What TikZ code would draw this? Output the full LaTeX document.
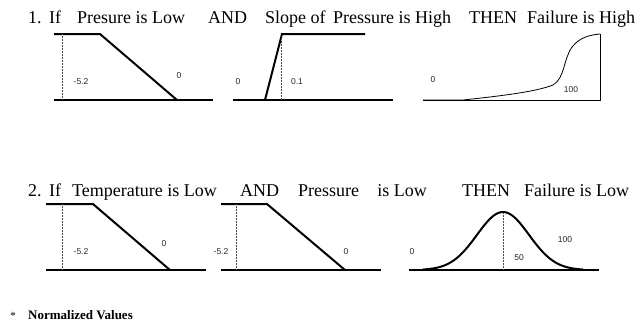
\documentclass[tikz,border=0pt]{standalone}
\usepackage{fontspec}
\setmainfont{Liberation Serif}
\newfontfamily\valfont{Liberation Sans}
\usetikzlibrary{positioning}

\begin{document}
\begin{tikzpicture}[
    x=1pt, y=-1pt,
    head/.style={anchor=base west, inner sep=0pt, font=\fontsize{18}{20}\selectfont},
    note/.style={anchor=base west, inner sep=0pt, font=\bfseries\fontsize{13}{15}\selectfont},
    val/.style={inner sep=0pt, font=\valfont\fontsize{8.5}{9}\selectfont, text=black!85},
    mf/.style={line width=2pt},
    thinmf/.style={line width=0.8pt},
    guide/.style={densely dotted, line width=0.5pt, draw=black!70}
]
    \useasboundingbox (0,0) rectangle (642,330);

    % Rule 1 text
    \node[head] (r1num) at (28,23) {1.};
    \node[head] (r1if) at (49,23) {If};
    \node[head] (r1a) at (77,23) {Presure is Low};
    \node[head] (r1and) at (208,23) {AND};
    \node[head] (r1b) at (265,23) {Slope of};
    \node[head] (r1c) at (333,23) {Pressure is High};
    \node[head] (r1then) at (469,23) {THEN};
    \node[head] (r1d) at (527,23) {Failure is High};

    % Rule 1: pressure low
    \draw[mf] (54,34) -- (100,34) -- (177,100);
    \draw[mf] (54,100) -- (213,100);
    \draw[guide] (62,34) -- (62,100);
    \node[val] (p1lo) at (81,82) {-5.2};
    \node[val] (p1hi) at (179,76) {0};

    % Rule 1: slope high
    \draw[mf] (233,100) -- (393,100);
    \draw[mf] (265,100) -- (282,34) -- (365,34);
    \draw[guide] (281,36) -- (281,100);
    \node[val] (s1lo) at (238,82) {0};
    \node[val] (s1hi) at (297,82) {0.1};

    % Rule 1: failure high
    \draw[thinmf] (423,100) -- (600,100) -- (600,34);
    \draw[thinmf] (423,100) -- (463,100)
        .. controls (500,96) and (535,92) .. (553,85)
        .. controls (565,78) and (563,60) .. (572,47)
        .. controls (580,37) and (590,35) .. (600,34);
    \node[val] (f1lo) at (433,80) {0};
    \node[val] (f1hi) at (571,90) {100};

    % Rule 2 text
    \node[head] (r2num) at (28,196) {2.};
    \node[head] (r2if) at (49,196) {If};
    \node[head] (r2a) at (72,196) {Temperature is Low};
    \node[head] (r2and) at (240,196) {AND};
    \node[head] (r2b) at (298,196) {Pressure};
    \node[head, anchor=base east] (r2c) at (427,196) {is Low};
    \node[head] (r2then) at (462,196) {THEN};
    \node[head] (r2d) at (524,196) {Failure is Low};

    % Rule 2: temperature low
    \draw[mf] (46,204) -- (93,204) -- (170,270);
    \draw[mf] (46,270) -- (206,270);
    \draw[guide] (62,204) -- (62,270);
    \node[val] (t2lo) at (81,252) {-5.2};
    \node[val] (t2hi) at (164,244) {0};

    % Rule 2: pressure low
    \draw[mf] (221,204) -- (267,204) -- (345,270);
    \draw[mf] (221,270) -- (381,270);
    \draw[guide] (236,204) -- (236,270);
    \node[val] (p2lo) at (221,252) {-5.2};
    \node[val] (p2hi) at (346,252) {0};

    % Rule 2: failure low
    \draw[line width=1.2pt] (409,270) -- (599,270);
    \draw[mf] plot[domain=-80:80, samples=80, smooth] ({503+\x}, {270-58*exp(-(\x*\x)/1352)});
    \draw[guide] (503,213) -- (503,270);
    \node[val] (f2lo) at (412,252) {0};
    \node[val] (f2mid) at (519,258) {50};
    \node[val] (f2hi) at (565,240) {100};

    % Footnote
    \node[note, font=\fontsize{11}{12}\selectfont, anchor=center] (star) at (13,316) {*};
    \node[note] (norm) at (28,319) {Normalized Values};
\end{tikzpicture}
\end{document}
